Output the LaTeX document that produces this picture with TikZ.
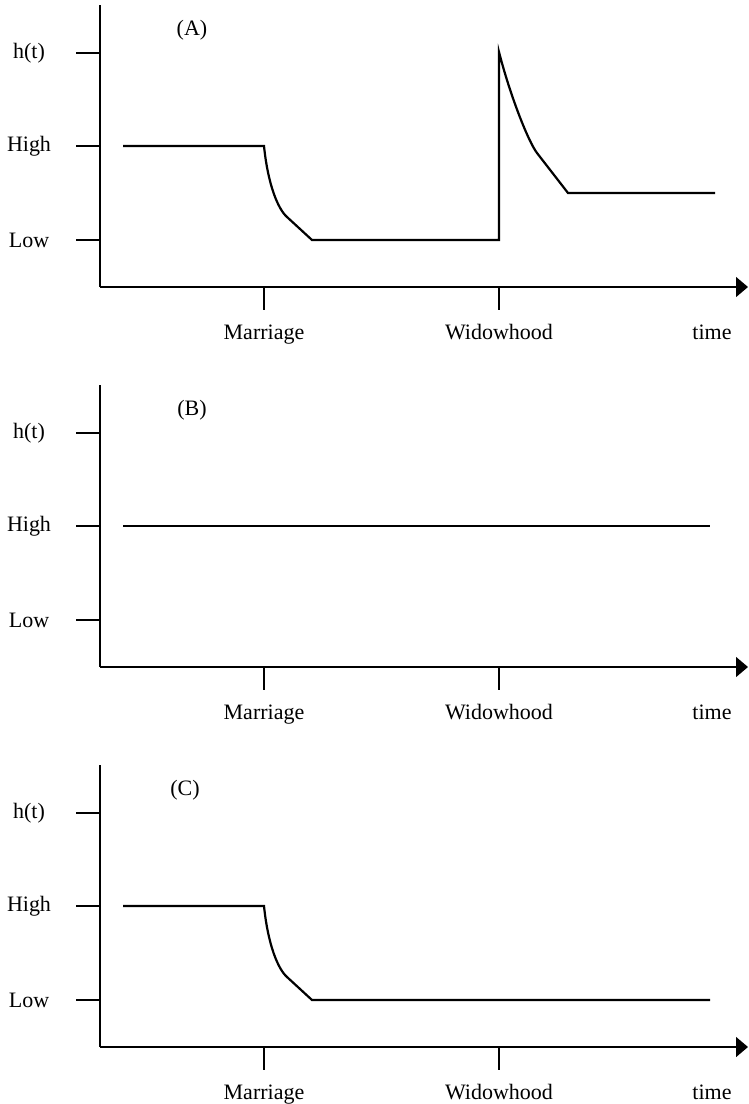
\documentclass[tikz,border=0pt]{standalone}
\usepackage{fontspec}
\setmainfont{Liberation Serif}
\usetikzlibrary{arrows.meta}
\begin{document}
\begin{tikzpicture}[x=1pt,y=-1pt,
  axis/.style={line width=1.4pt},
  curve/.style={line width=2.2pt, line join=miter},
  lab/.style={font=\fontsize{22}{26}\selectfont, inner sep=0pt},
  arr/.style={-{Triangle[length=12pt,width=20pt]}}
]
\useasboundingbox (0,0) rectangle (748,1104);
\foreach \p/\off/\tx in {A/0/192,B/380/192,C/760/185}{
  \begin{scope}[shift={(0,\off)}]
    \draw[axis] (100,5) -- (100,287);
    \draw[axis,arr] (100,287) -- (748,287);
    \draw[axis] (76,53) -- (100,53);
    \draw[axis] (76,146) -- (100,146);
    \draw[axis] (76,240) -- (100,240);
    \draw[axis] (264,287) -- (264,310);
    \draw[axis] (499,287) -- (499,310);
    \node[lab] (ht\p) at (29,53) {h(t)};
    \node[lab] (high\p) at (29,146) {High};
    \node[lab] (low\p) at (29,240) {Low};
    \node[lab,anchor=base] (mar\p) at (264,339) {Marriage};
    \node[lab,anchor=base] (wid\p) at (499,339) {Widowhood};
    \node[lab,anchor=base] (time\p) at (712,339) {time};
    \node[lab] (tag\p) at (\tx,30) {(\p)};
  \end{scope}
}
% Panel A
\draw[curve] (123,146) -- (264,146) .. controls (268,185) and (278,209) .. (287,217) -- (312,240)
  -- (499,240) -- (499,52) .. controls (510,95) and (528,141) .. (537,153) -- (568,193) -- (715,193);
% Panel B
\draw[curve] (123,526) -- (710,526);
% Panel C
\draw[curve] (123,906) -- (264,906) .. controls (268,945) and (278,969) .. (287,977) -- (312,1000) -- (710,1000);
\end{tikzpicture}
\end{document}
